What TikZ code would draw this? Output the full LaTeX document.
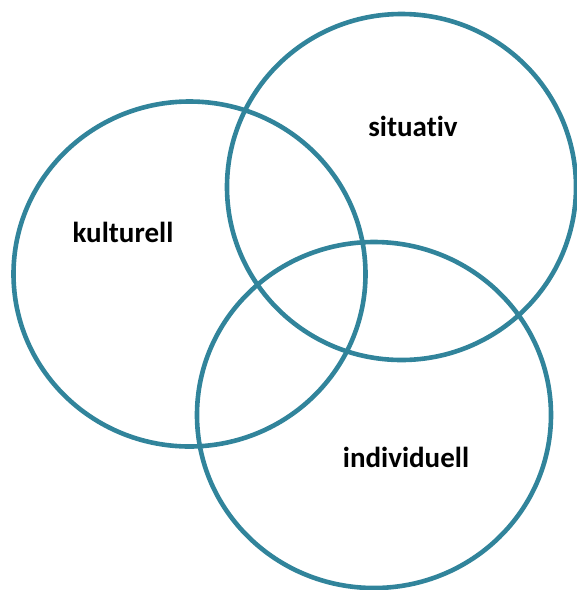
\documentclass[tikz,border=0pt]{standalone}
\usepackage{fontspec}
\usetikzlibrary{shapes.geometric}
\setmainfont[Ligatures=NoCommon]{Carlito}
\definecolor{ring}{HTML}{31849B}
\begin{document}
\begin{tikzpicture}[x=1pt,y=-1pt,
  ringc/.style={draw=ring,line width=4.6pt,ellipse,inner sep=0pt},
  lbl/.style={font=\fontsize{29}{32}\selectfont\bfseries,anchor=base,inner sep=0pt}]
\useasboundingbox (0,0) rectangle (577,590);
\node[ringc,minimum width=352pt,minimum height=345pt] (k) at (189.5,274) {};
\node[ringc,minimum width=349pt,minimum height=346pt] (s) at (401.5,187) {};
\node[ringc,minimum width=354pt,minimum height=346pt] (i) at (374,415) {};
\node[lbl] (kl) at (123,242) {kulturell};
\node[lbl] (sl) at (413,136) {situativ};
\node[lbl] (il) at (406,467) {individuell};
\end{tikzpicture}
\end{document}
